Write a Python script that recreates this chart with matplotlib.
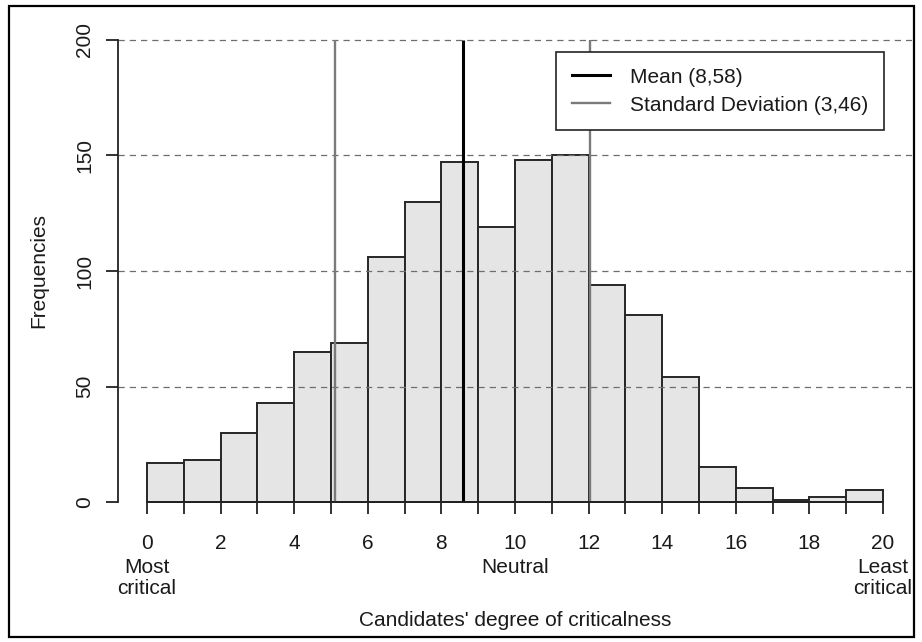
import matplotlib
matplotlib.use("Agg")
import matplotlib.pyplot as plt
from matplotlib.lines import Line2D
from matplotlib.patches import Rectangle

# ---- data ----
bin_left = list(range(0, 20))
counts = [17, 18, 30, 43, 65, 69, 106, 130, 147, 119,
          148, 150, 94, 81, 54, 15, 6, 1, 2, 5]
mean_val = 8.58
sd_val = 3.46
x_ticks = [0, 2, 4, 6, 8, 10, 12, 14, 16, 18, 20]
y_ticks = [0, 50, 100, 150, 200]
grid_levels = [50, 100, 150, 200]
legend_labels = ["Mean (8,58)", "Standard Deviation (3,46)"]
x_title = "Candidates' degree of criticalness"
y_title = "Frequencies"
anchor_labels = [(0, "Most", "critical"), (10, "Neutral", None), (20, "Least", "critical")]

plt.rcParams['font.family'] = ['Liberation Sans', 'DejaVu Sans']
FS = 15
TXT = '#1a1a1a'

W, H = 922, 642
fig = plt.figure(figsize=(W / 100, H / 100), dpi=100)
ax = fig.add_axes([117.6 / W, 1 - 520.5 / H, (912.4 - 117.6) / W, (520.5 - 21.5) / H])
ax.set_xlim(-0.8, 20.8)
ax.set_ylim(-8, 208)

# bars
ax.bar(bin_left, counts, width=1, align='edge', color='#e5e5e5',
       edgecolor='#262626', linewidth=1.4, zorder=2)

# dashed grid
for g in grid_levels:
    ax.axhline(g, color='#6e6e6e', linewidth=0.9, linestyle=(0, (5, 4)), zorder=3)

# mean and sd lines
ax.vlines([mean_val], 0, 200, colors='black', linewidth=2.2, zorder=4)
ax.vlines([mean_val - sd_val, mean_val + sd_val], 0, 200, colors='#7a7a7a',
          linewidth=1.7, zorder=4)

# axes styling
for s in ['top', 'right']:
    ax.spines[s].set_visible(False)
ax.spines['left'].set_bounds(0, 200)
ax.spines['bottom'].set_position(('data', 0))
ax.spines['bottom'].set_bounds(0, 20)
for s in ['left', 'bottom']:
    ax.spines[s].set_color('#222222')
    ax.spines[s].set_linewidth(1.3)
    ax.spines[s].set_zorder(5)

ax.set_xticks(x_ticks)
ax.set_yticks(y_ticks)
ax.set_xticks(range(0, 21), minor=True)
ax.tick_params(axis='x', which='both', direction='out', length=8.6, width=1.3,
               color='#222222', labelsize=FS, labelcolor=TXT, pad=14.4)
ax.tick_params(axis='x', which='minor', labelbottom=False)
ax.tick_params(axis='y', direction='out', length=8.6, width=1.3,
               color='#222222', labelsize=FS, labelcolor=TXT, pad=8.4)
for lab in ax.get_yticklabels():
    lab.set_rotation(90)
    lab.set_va('center')
    lab.set_ha('right')

# anchor labels below the x axis
for xv, l1, l2 in anchor_labels:
    ax.annotate(l1, xy=(xv, 0), xycoords='data', xytext=(0, -71 * 0.72),
                textcoords='offset points', ha='center', va='baseline',
                fontsize=FS, color=TXT, annotation_clip=False)
    if l2:
        ax.annotate(l2, xy=(xv, 0), xycoords='data', xytext=(0, -92 * 0.72),
                    textcoords='offset points', ha='center', va='baseline',
                    fontsize=FS, color=TXT, annotation_clip=False)

fig.text(515 / W, 1 - 620 / H, x_title, ha='center', va='center', fontsize=FS, color=TXT)
fig.text(39 / W, 1 - 271 / H, y_title, ha='center', va='center', rotation=90,
         fontsize=FS, color=TXT)

# legend
handles = [Line2D([], [], color='black', linewidth=2.2),
           Line2D([], [], color='#7a7a7a', linewidth=1.7)]
leg = ax.legend(handles, legend_labels, loc='upper right',
                bbox_to_anchor=(884 / W, 1 - 52 / H), bbox_transform=fig.transFigure,
                borderaxespad=0, fancybox=False, edgecolor='#222222', framealpha=1,
                fontsize=FS, handlelength=1.83, handletextpad=0.96,
                labelspacing=0.44, borderpad=0.75)
leg.get_frame().set_linewidth(1.2)
leg.set_zorder(10)
for t in leg.get_texts():
    t.set_color(TXT)

# outer frame
fig.add_artist(Rectangle((9 / W, 1 - 637 / H), (914 - 9) / W, (637 - 6) / H,
                         transform=fig.transFigure, fill=False, linewidth=1.6,
                         edgecolor='black'))

fig.savefig('out.png', dpi=100)
